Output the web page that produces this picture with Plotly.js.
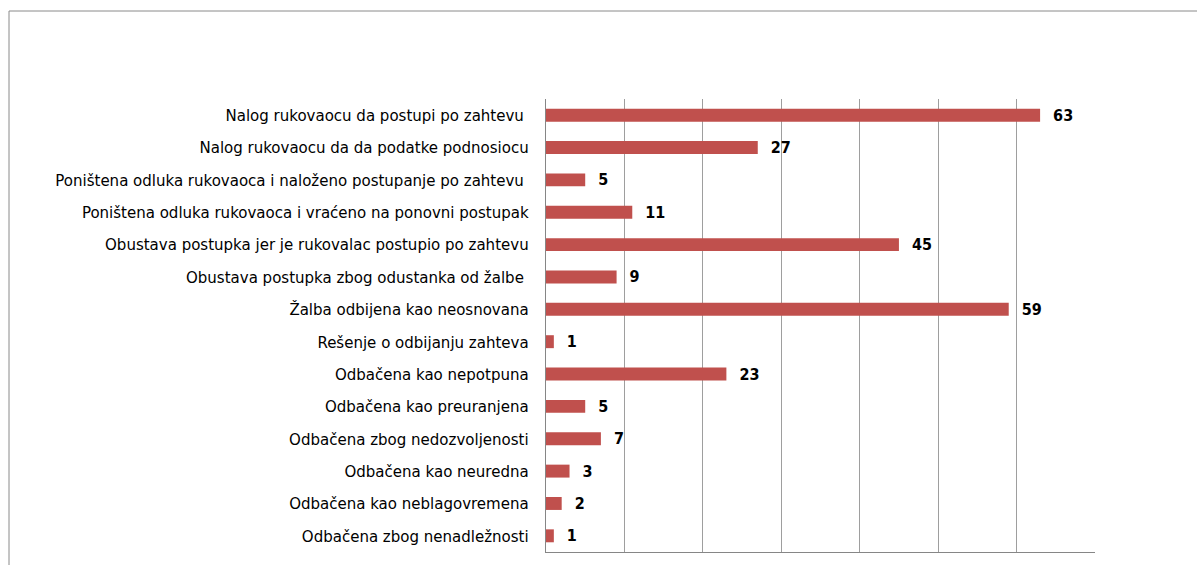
<!DOCTYPE html>
<html>
<head>
<meta charset="utf-8">
<script src="https://cdn.plot.ly/plotly-3.0.1.min.js"></script>
<style>
html,body{margin:0;padding:0;background:#fff;overflow:hidden;}
#chart{width:1197px;height:565px;}
</style>
</head>
<body>
<div id="chart"></div>
<script>
const categories = [
  "Nalog rukovaocu da postupi po zahtevu ",
  "Nalog rukovaocu da da podatke podnosiocu",
  "Poništena odluka rukovaoca i naloženo postupanje po zahtevu ",
  "Poništena odluka rukovaoca i vraćeno na ponovni postupak",
  "Obustava postupka jer je rukovalac postupio po zahtevu",
  "Obustava postupka zbog odustanka od žalbe ",
  "Žalba odbijena kao neosnovana",
  "Rešenje o odbijanju zahteva",
  "Odbačena kao nepotpuna",
  "Odbačena kao preuranjena",
  "Odbačena zbog nedozvoljenosti",
  "Odbačena kao neuredna",
  "Odbačena kao neblagovremena",
  "Odbačena zbog nenadležnosti"
];
const values = [63, 27, 5, 11, 45, 9, 59, 1, 23, 5, 7, 3, 2, 1];

const trace = {
  type: 'bar',
  orientation: 'h',
  y: categories,
  x: values,
  marker: {color: '#C0504D'},
  text: values.map(v => '\u00a0\u00a0' + v),
  textposition: 'outside',
  constraintext: 'none',
  textfont: {family: 'Liberation Sans Narrow, DejaVu Sans Condensed, sans-serif', size: 16, color: '#000', weight: 'bold'},
  cliponaxis: false,
  hoverinfo: 'none'
};

const pw = 1095 - 546, ph = 552 - 99;
const layout = {
  width: 1197, height: 565,
  margin: {l: 546, r: 102, t: 99, b: 13, pad: 0},
  paper_bgcolor: '#fff', plot_bgcolor: '#fff',
  showlegend: false,
  bargap: 0.6,
  font: {family: 'Liberation Sans Narrow, DejaVu Sans Condensed, sans-serif', size: 16.7, color: '#000'},
  xaxis: {
    range: [0, 70], dtick: 10, showgrid: true, gridcolor: '#9e9e9e', gridwidth: 1,
    showticklabels: false, zeroline: false, showline: true, linecolor: '#868686', linewidth: 1,
    ticks: '', fixedrange: true
  },
  yaxis: {
    autorange: 'reversed', showline: true, linecolor: '#868686', linewidth: 1,
    ticks: '', ticklabelstandoff: 13, showgrid: false, fixedrange: true
  },
  shapes: [{
    type: 'rect', xref: 'paper', yref: 'paper',
    x0: (9 - 546) / pw, x1: (1300 - 546) / pw,
    y0: (552 - 700) / ph, y1: (552 - 11) / ph,
    line: {color: '#8a8a8a', width: 1}, fillcolor: 'rgba(0,0,0,0)', layer: 'below'
  }]
};

Plotly.newPlot('chart', [trace], layout, {staticPlot: true, displayModeBar: false});
</script>
</body>
</html>
